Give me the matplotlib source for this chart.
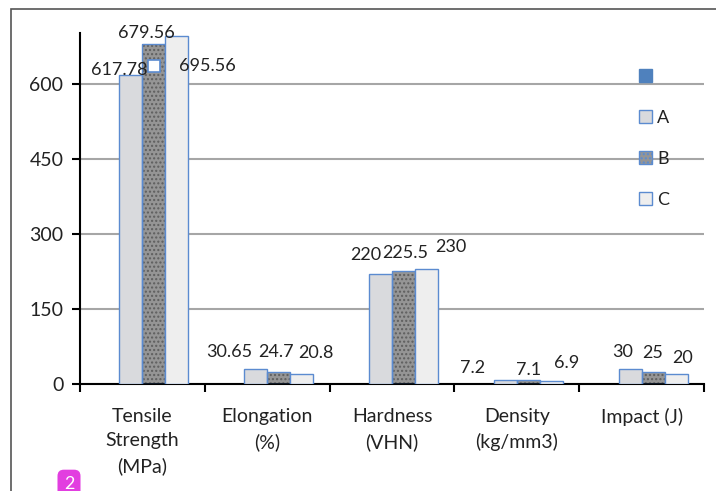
import matplotlib.pyplot as plt
from matplotlib.patches import Patch, Rectangle
import numpy as np

# ~  Data

categories = ["Tensile\nStrength\n(MPa)", "Elongation\n(%)", "Hardness\n(VHN)",
              "Density\n(kg/mm3)", "Impact (J)"]
series_names = ["", "A", "B", "C"]
series_blank = [np.nan, np.nan, np.nan, np.nan, np.nan]
series_a = [617.78, 30.65, 220, 7.2, 30]
series_b = [679.56, 24.7, 225.5, 7.1, 25]
series_c = [695.56, 20.8, 230, 6.9, 20]
y_ticks = [0, 150, 300, 450, 600]

# label offsets in pixels (dx, dy) from bar top, per series per category
label_off_a = [(-12, 5), (-26, 17), (-15, 19), (-33, 12), (-7, 17)]
label_off_b = [(-8, 11), (-3, 20), (2, 18), (0, 10), (0, 19)]
label_off_c = [(30, -30), (14, 21), (24, 22), (15, 18), (6, 16)]

# ~  Style

plt.rcParams['font.family'] = ['Lato', 'DejaVu Sans']
txt_col = '#222222'
edge_col = '#5b8bd0'
fills = ['#4f81bd', '#d9dadd', '#959595', '#eeeeee']
hatches = [None, None, '....', None]
hatch_cols = [None, None, '#5e5e5e', '#d8d8d8']

W, H = 716, 491
fig = plt.figure(figsize=(W / 100, H / 100), dpi=100)
ax = fig.add_axes([80 / W, 1 - 384 / H, 624 / W, 351 / H])

x = np.arange(len(categories)) + 0.5
w = 23 / 124.8
all_series = [series_blank, series_a, series_b, series_c]
offsets = [None, label_off_a, label_off_b, label_off_c]

handles = []
for k, vals in enumerate(all_series):
    pos = x + (k - 1.5) * w
    if hatches[k]:
        ax.bar(pos, vals, w, color=fills[k], hatch=hatches[k],
               edgecolor=hatch_cols[k], linewidth=0, zorder=2)
        ax.bar(pos, vals, w, fill=False, edgecolor=edge_col, linewidth=1.0, zorder=3)
    else:
        ax.bar(pos, vals, w, color=fills[k], edgecolor=edge_col, linewidth=1.0, zorder=3)
    handles.append(Patch(facecolor=fills[k], edgecolor=edge_col if k else fills[k],
                         hatch=hatches[k], label=series_names[k]))
    if offsets[k] is None:
        continue
    for i, v in enumerate(vals):
        dx, dy = offsets[k][i]
        ax.annotate(f"{v:g}", (pos[i], v), xytext=(dx, dy), textcoords='offset pixels',
                    ha='center', va='center', fontsize=13, color=txt_col, zorder=5)

# little legend key shown beside the 695.56 label
ax.plot([x[0] + 0.5 * w], [series_c[0] - 60], marker='s', ms=9, mfc='white',
        mec=edge_col, mew=1.2, zorder=6)

ax.set_xlim(0, len(categories))
ax.set_ylim(0, 702)
ax.set_yticks(y_ticks)
ax.set_yticklabels([str(t) for t in y_ticks], fontsize=14, color=txt_col)
ax.yaxis.grid(True, color='#a6a6a6', linewidth=1.5, zorder=0)
ax.set_axisbelow(True)
ax.set_xticks(np.arange(len(categories) + 1))
ax.set_xticklabels([])
ax.set_xticks(x, minor=True)
ax.set_xticklabels(categories, minor=True, fontsize=14, color=txt_col, linespacing=1.55)
ax.tick_params(axis='x', which='major', length=6, width=1.5, direction='out')
ax.tick_params(axis='x', which='minor', length=0, pad=17)
ax.tick_params(axis='y', length=6, width=1.5, direction='out', pad=6)
for s in ['top', 'right']:
    ax.spines[s].set_visible(False)
for s in ['left', 'bottom']:
    ax.spines[s].set_linewidth(1.5)
    ax.spines[s].set_color('black')

leg = fig.legend(handles=handles, loc='upper left', bbox_to_anchor=(639 / W, 1 - 69 / H),
                 frameon=False, fontsize=13, handlelength=0.7, handleheight=0.7,
                 handletextpad=0.3, labelspacing=1.38, borderpad=0, borderaxespad=0)
for t in leg.get_texts():
    t.set_color(txt_col)

# outer chart frame
fig.patches.append(Rectangle((11 / W, -0.2), 1.2, 1.2 - 9 / H, transform=fig.transFigure,
                             fill=False, edgecolor='#555555', linewidth=1.2))
fig.text(69 / W, 1 - 484 / H, "2", color='white', fontsize=13, ha='center', va='center',
         bbox=dict(boxstyle='round,pad=0.35', facecolor='#e23ee0', edgecolor='none'))

fig.savefig("out.png", dpi=100)
